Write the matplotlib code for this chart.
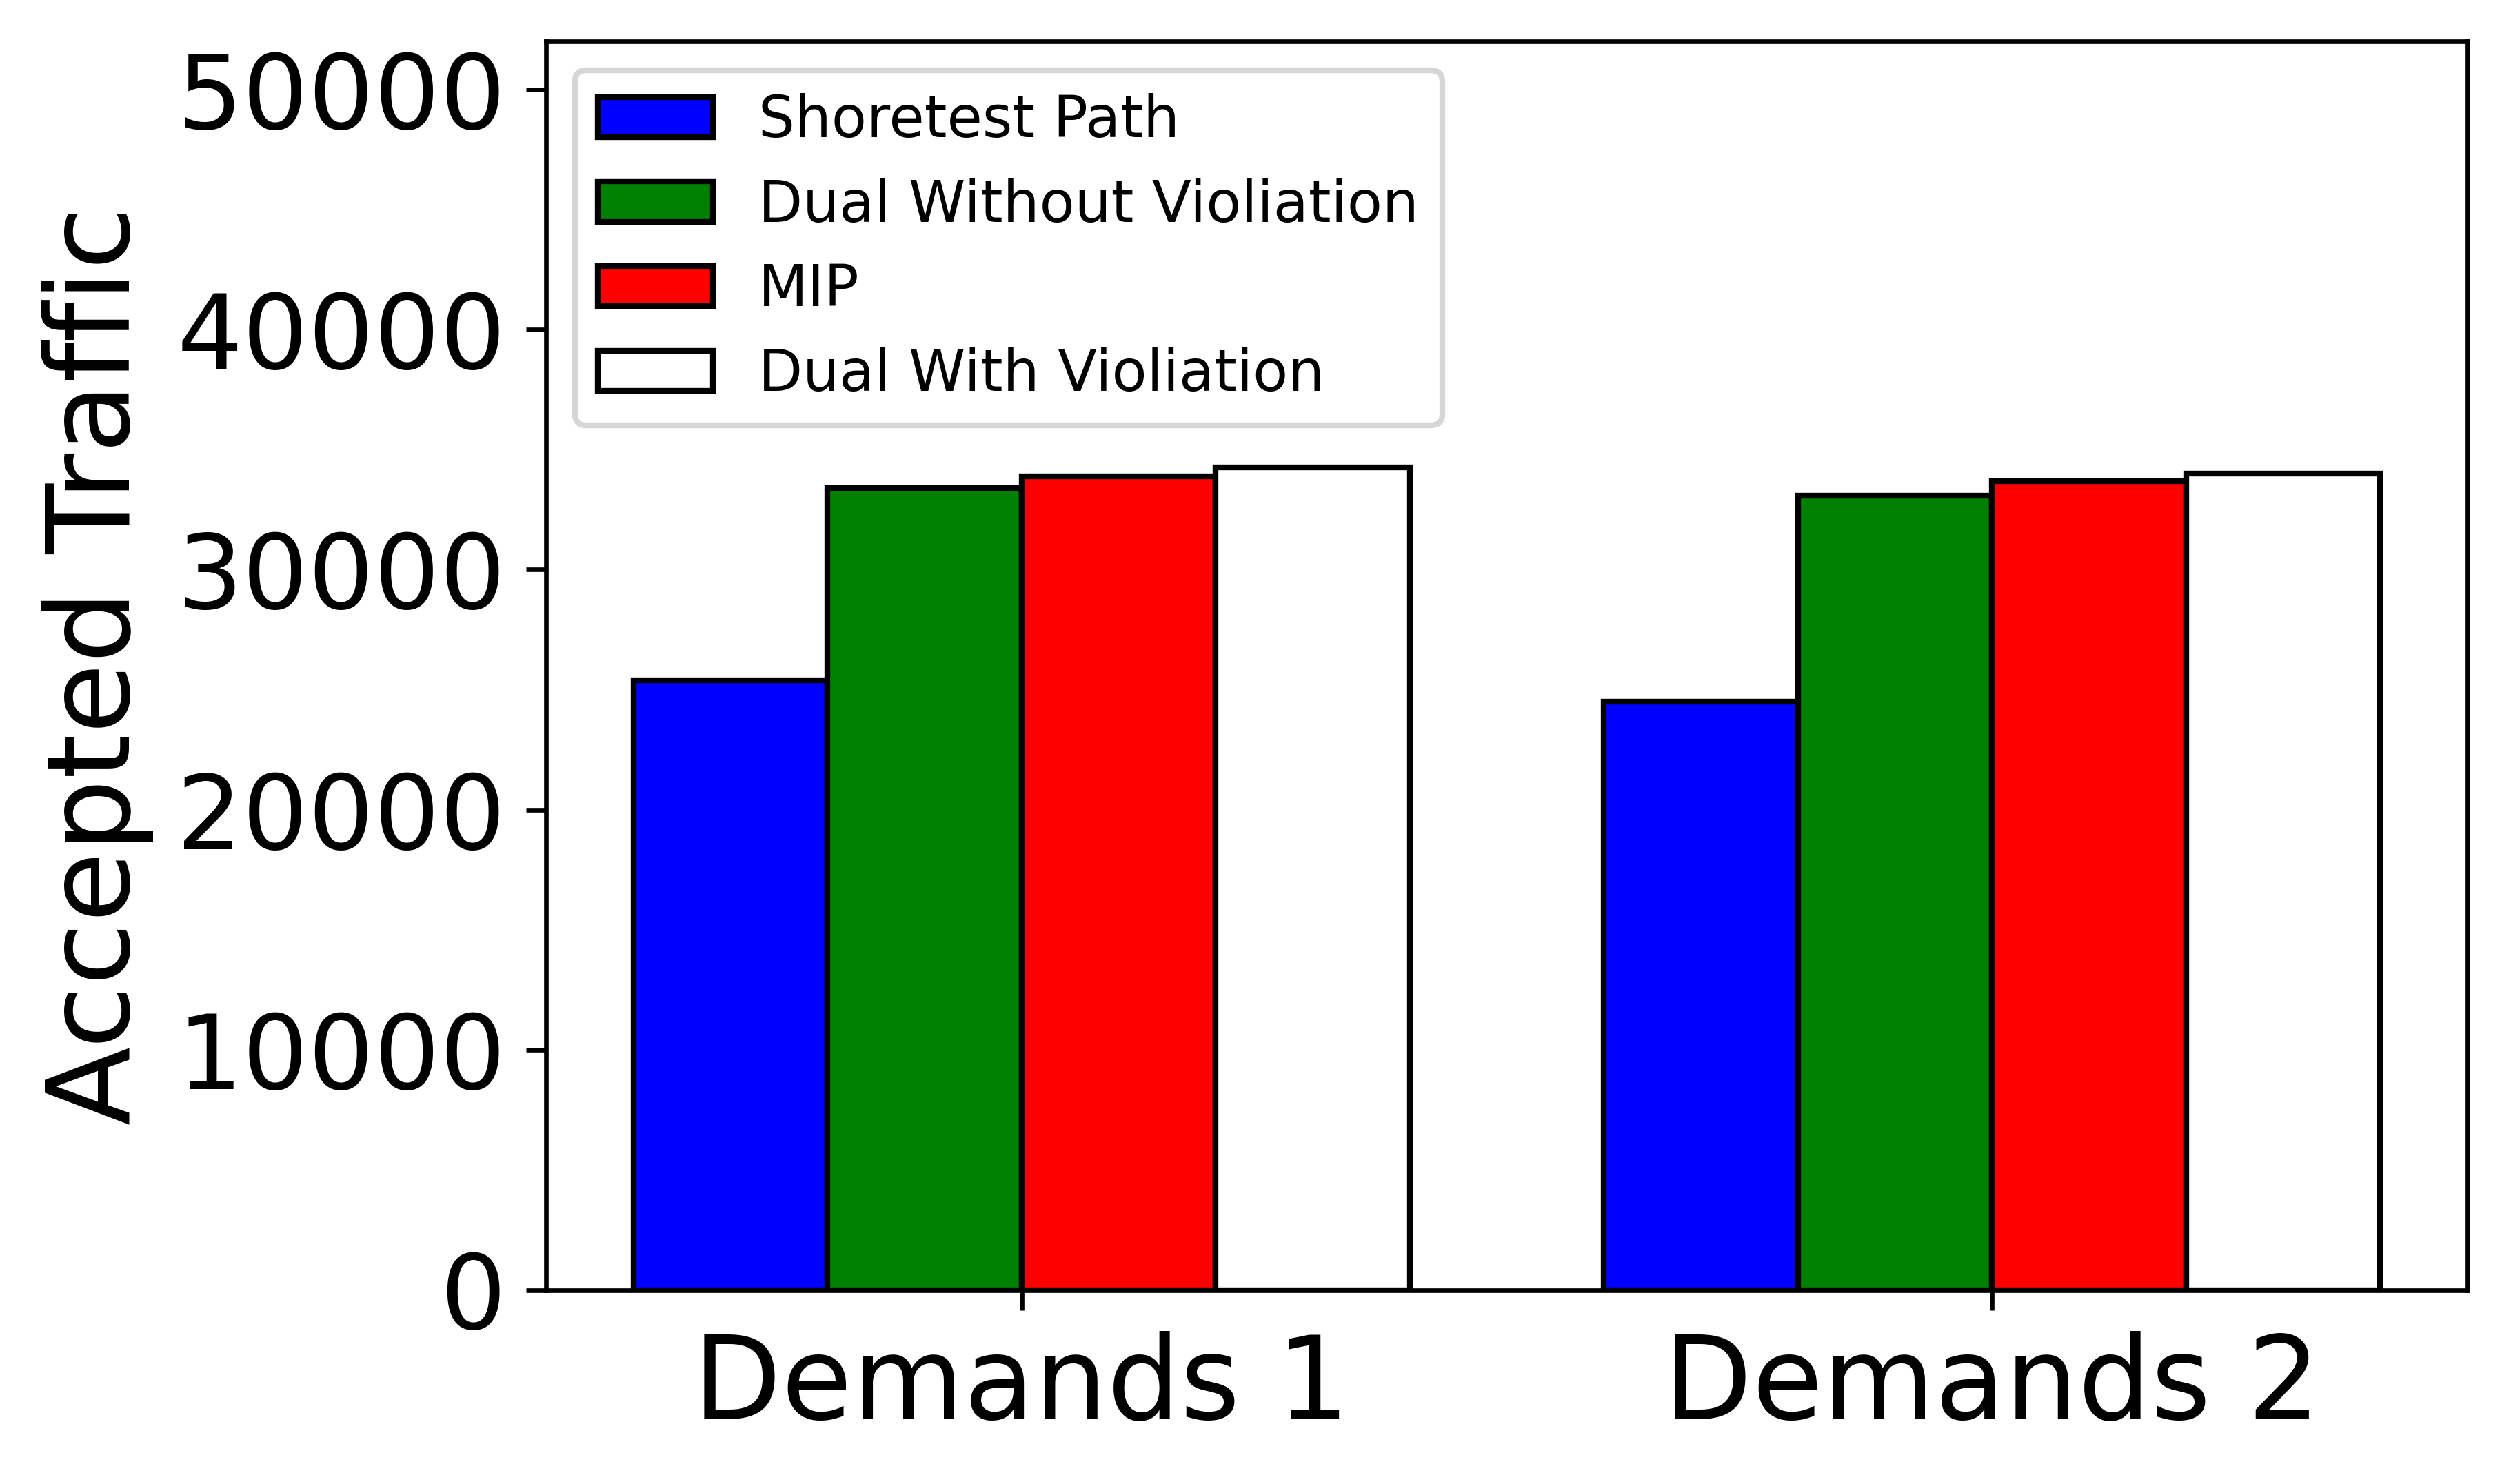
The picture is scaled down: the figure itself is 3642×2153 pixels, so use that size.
import numpy as np
import matplotlib
matplotlib.use("Agg")
import matplotlib.pyplot as plt

groups = ["Demands 1", "Demands 2"]
shortest = [25400, 24500]
dual_no_viol = [33400, 33070]
mip = [33880, 33700]
dual_viol = [34250, 33990]

series = [
    (shortest, "blue", "Shoretest Path"),
    (dual_no_viol, "green", "Dual Without Violiation"),
    (mip, "red", "MIP"),
    (dual_viol, "white", "Dual With Violiation"),
]

x = np.arange(len(groups))
w = 0.2

fig = plt.figure(figsize=(3642 / 600, 2153 / 600), dpi=600)
ax = fig.add_axes([792 / 3642, 1 - 1871.5 / 2153, (3579 - 792) / 3642, (1871.5 - 60) / 2153])

for i, (vals, color, label) in enumerate(series):
    ax.bar(x + (i - 1.5) * w, vals, w, color=color, edgecolor="black", label=label)

ax.set_xticks(x)
ax.set_xticklabels(groups, fontsize=20)
ax.tick_params(axis="y", labelsize=18)
ax.set_ylabel("Accepted Traffic", fontsize=20)
ax.set_ylim(0, 52000)
ax.legend(loc="upper left", fontsize=10)

fig.savefig("out.png", dpi=600)
